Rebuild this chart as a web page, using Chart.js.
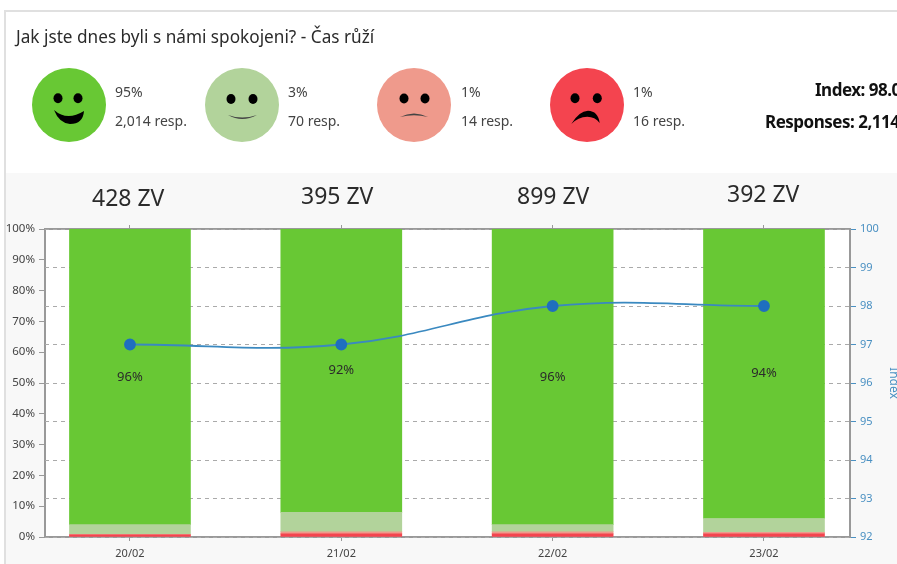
<!DOCTYPE html>
<html>
<head>
<meta charset="utf-8" />
<title>Jak jste dnes byli s námi spokojeni?</title>
<script src="https://cdn.jsdelivr.net/npm/chart.js"></script>
<style>
    html, body { margin: 0; padding: 0; width: 897px; height: 564px; overflow: hidden; background: #fff; }
    body { position: relative; font-family: "Noto Sans", sans-serif; color: #333; }
    #panel { position: absolute; left: 4px; top: 10px; right: -10px; bottom: -10px; border: 2px solid #e0e0e0; }
    #band { position: absolute; left: 6px; top: 173px; right: 0; bottom: 0; background: #f8f8f8; }
    #chart { position: absolute; left: 0; top: 0; }
    .txt { position: absolute; white-space: nowrap; }
    #title { left: 16px; top: 25px; font-size: 17.2px; color: #2b2b2b; }
    .face { position: absolute; top: 68px; width: 74px; height: 74px; }
    .stat { font-size: 14px; color: #444; }
    .big { font-size: 23px; color: #2b2b2b; }
    .sum { font-size: 17px; font-weight: 700; color: #111; letter-spacing: -0.5px; }
</style>
</head>
<body>
    <div id="panel"></div>
    <div id="band"></div>
    <canvas id="chart" width="897" height="564"></canvas>

    <div id="title" class="txt">Jak jste dnes byli s námi spokojeni? - Čas růží</div>

    <!-- Smajlici -->
    <svg class="face" style="left:32px" viewBox="-37 -37 74 74">
        <circle r="37" fill="#68c834"/>
        <ellipse cx="-11" cy="-6.7" rx="4.5" ry="5"/><ellipse cx="9" cy="-6.7" rx="4.5" ry="5"/>
        <path d="M-15 5Q-2 16.5 15 6Q14 19 1 19Q-10 18 -15 5Z"/>
    </svg>
    <svg class="face" style="left:205px" viewBox="-37 -37 74 74">
        <circle r="37" fill="#b2d39b"/>
        <ellipse cx="-11" cy="-6" rx="4.5" ry="5"/><ellipse cx="11" cy="-6" rx="4.5" ry="5"/>
        <path d="M-14 10Q0 15 15 10Q0 18 -14 10Z" fill="#444"/>
    </svg>
    <svg class="face" style="left:377px" viewBox="-37 -37 74 74">
        <circle r="37" fill="#ef9a8c"/>
        <ellipse cx="-10" cy="-6.5" rx="4.5" ry="5"/><ellipse cx="11" cy="-6.5" rx="4.5" ry="5"/>
        <path d="M-14 12Q0 5 14 12Q0 8.5 -14 12Z" fill="#444"/>
    </svg>
    <svg class="face" style="left:550px" viewBox="-37 -37 74 74">
        <circle r="37" fill="#f4444f"/>
        <ellipse cx="-12" cy="-6.7" rx="4.5" ry="5"/><ellipse cx="10.3" cy="-6.7" rx="4.5" ry="5"/>
        <path d="M-15.7 19Q-8 6 1 5.7Q11 6 12.7 18Q8 11.7 0.3 11.7Q-9 12 -15.7 19Z"/>
    </svg>

    <div class="txt stat" style="left:115px;top:82px">95%</div>
    <div class="txt stat" style="left:115px;top:111px">2,014 resp.</div>
    <div class="txt stat" style="left:288px;top:82px">3%</div>
    <div class="txt stat" style="left:288px;top:111px">70 resp.</div>
    <div class="txt stat" style="left:461px;top:82px">1%</div>
    <div class="txt stat" style="left:461px;top:111px">14 resp.</div>
    <div class="txt stat" style="left:633px;top:82px">1%</div>
    <div class="txt stat" style="left:633px;top:111px">16 resp.</div>

    <div class="txt sum" style="left:815px;top:78px">Index: 98.0</div>
    <div class="txt sum" style="left:765px;top:110px">Responses: 2,114</div>

    <!-- Pocet ZV nad sloupci -->
    <div class="txt big" style="left:92px;top:181px">428 ZV</div>
    <div class="txt big" style="left:301px;top:179px">395 ZV</div>
    <div class="txt big" style="left:517px;top:179px">899 ZV</div>
    <div class="txt big" style="left:727px;top:177px">392 ZV</div>

    <script>
        const categories = ['20/02', '21/02', '22/02', '23/02'];
        const velmiSpokojeni = [96, 92, 96, 94];
        const spokojeni = [3.1, 6.3, 2.3, 4.5];
        const nespokojeni = [0.2, 0.7, 0.7, 0.5];
        const velmiNespokojeni = [0.7, 1, 1, 1];
        const indexValues = [97, 97, 98, 98];
        const percentTicks = [0, 10, 20, 30, 40, 50, 60, 70, 80, 90, 100];

        // osa x je linearni, aby sloupce nezacinaly na kraji grafu
        const xMin = -0.402;
        const xMax = 3.407;
        const toPoints = arr => arr.map((v, i) => ({ x: i, y: v }));
        const categoryTicks = s => { s.ticks = categories.map((c, i) => ({ value: i })); };

        // bily podklad plochy grafu
        const plotBackground = {
            id: 'plotBackground',
            beforeDraw(chart) {
                const a = chart.chartArea;
                chart.ctx.fillStyle = '#fff';
                chart.ctx.fillRect(a.left, a.top, a.right - a.left, a.bottom - a.top);
            }
        };

        // popisky procent uprostred zelenych sloupcu
        const barLabels = {
            id: 'barLabels',
            afterDatasetsDraw(chart) {
                const ctx = chart.ctx;
                ctx.save();
                ctx.font = '13px "Noto Sans"';
                ctx.fillStyle = '#2b2b2b';
                ctx.textAlign = 'center';
                ctx.textBaseline = 'middle';
                chart.getDatasetMeta(4).data.forEach((bar, i) => {
                    const p = bar.getCenterPoint();
                    ctx.fillText(velmiSpokojeni[i] + '%', p.x, p.y);
                });
                ctx.restore();
            }
        };

        const bar = (data, color) => ({
            type: 'bar',
            data: toPoints(data),
            backgroundColor: color,
            barThickness: 121,
            xAxisID: 'x',
            yAxisID: 'y',
            order: 2
        });

        new Chart(document.getElementById('chart').getContext('2d'), {
            data: {
                datasets: [
                    {
                        type: 'line',
                        data: toPoints(indexValues),
                        borderColor: '#3a89c0',
                        borderWidth: 1.8,
                        backgroundColor: '#1f6fbf',
                        pointBackgroundColor: '#1f6fbf',
                        pointBorderColor: '#1f6fbf',
                        pointRadius: 5,
                        tension: 0.4,
                        fill: false,
                        xAxisID: 'x',
                        yAxisID: 'y1',
                        order: 1
                    },
                    bar(velmiNespokojeni, '#f4444f'),
                    bar(nespokojeni, '#ef9a8c'),
                    bar(spokojeni, '#b2d39b'),
                    bar(velmiSpokojeni, '#68c834')
                ]
            },
            options: {
                responsive: false,
                animation: false,
                layout: { padding: 0 },
                plugins: { legend: { display: false }, tooltip: { enabled: false } },
                scales: {
                    x: {
                        type: 'linear',
                        position: 'bottom',
                        bounds: 'data',
                        offset: false,
                        stacked: true,
                        min: xMin,
                        max: xMax,
                        border: { color: '#999', width: 2 },
                        grid: { offset: false, drawOnChartArea: false, tickLength: 4, color: '#999' },
                        ticks: {
                            autoSkip: false,
                            maxRotation: 0,
                            color: '#444',
                            padding: 6,
                            font: { family: 'Noto Sans', size: 11 },
                            callback: v => categories[v]
                        },
                        afterBuildTicks: categoryTicks,
                        afterFit: s => { s.height = 27; }
                    },
                    xTop: {
                        type: 'linear',
                        position: 'top',
                        bounds: 'data',
                        offset: false,
                        min: xMin,
                        max: xMax,
                        border: { color: '#999', width: 2 },
                        grid: { offset: false, drawOnChartArea: false, tickLength: 4, color: '#999' },
                        ticks: { autoSkip: false, maxRotation: 0, callback: () => '' },
                        afterBuildTicks: categoryTicks,
                        afterFit: s => { s.height = 229; }
                    },
                    y: {
                        position: 'left',
                        stacked: true,
                        min: 0,
                        max: 100,
                        border: { color: '#999', width: 2 },
                        grid: { drawOnChartArea: false, tickLength: 6, color: '#999' },
                        ticks: {
                            color: '#444',
                            padding: 4,
                            font: { family: 'Noto Sans', size: 11.5 },
                            callback: v => v + '%'
                        },
                        afterBuildTicks: s => { s.ticks = percentTicks.map(v => ({ value: v })); },
                        afterFit: s => { s.width = 45; }
                    },
                    y1: {
                        position: 'right',
                        min: 92,
                        max: 100,
                        border: { color: '#999', width: 2, dash: [4, 4] },
                        grid: {
                            color: '#aaa',
                            tickColor: '#4a90c2',
                            tickLength: 6,
                            tickBorderDash: [],
                            z: 0
                        },
                        ticks: {
                            stepSize: 1,
                            color: '#4a90c2',
                            padding: 4,
                            font: { family: 'Noto Sans', size: 11 }
                        },
                        title: {
                            display: true,
                            text: 'Index',
                            color: '#4a90c2',
                            font: { family: 'Noto Sans', size: 12 },
                            padding: { top: -4, bottom: 0 }
                        },
                        afterFit: s => { s.width = 47; }
                    }
                }
            },
            plugins: [plotBackground, barLabels]
        });
    </script>
</body>
</html>
